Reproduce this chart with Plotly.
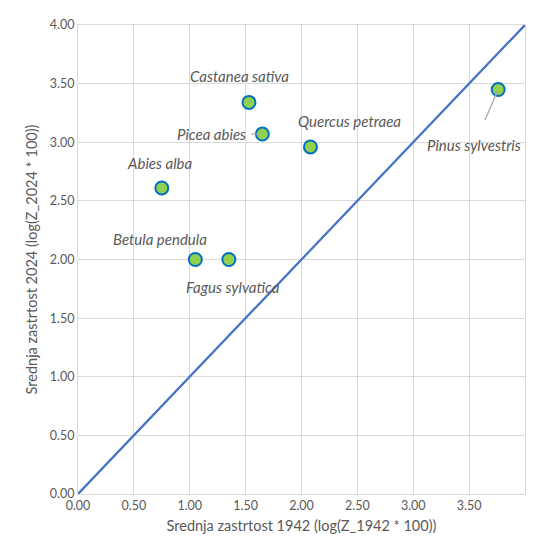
import plotly.graph_objects as go

species = ["Abies alba", "Betula pendula", "Fagus sylvatica", "Castanea sativa",
           "Picea abies", "Quercus petraea", "Pinus sylvestris"]
x_1942 = [0.75, 1.05, 1.35, 1.53, 1.65, 2.08, 3.76]
y_2024 = [2.61, 2.00, 2.00, 3.34, 3.07, 2.96, 3.45]
diag_x = [0, 4]
diag_y = [0, 4]

# label offsets in pixels (xshift, yshift, arrow?, start standoff)
label_pos = {
    "Abies alba": (-2, 25, False, 0),
    "Betula pendula": (-35, 21, False, 0),
    "Fagus sylvatica": (4, -27, False, 0),
    "Castanea sativa": (-9, 26, False, 0),
    "Picea abies": (-51, 0, True, 4),
    "Quercus petraea": (39, 26, False, 0),
    "Pinus sylvestris": (-24, 56, True, 16),
}

grey = "#595959"
grid = "#D9D9D9"
fam = "Lato, Open Sans, sans-serif"

fig = go.Figure()
fig.add_trace(go.Scatter(x=diag_x, y=diag_y, mode="lines",
                         line=dict(color="#4472C4", width=2.25),
                         hoverinfo="skip", showlegend=False))
fig.add_trace(go.Scatter(x=x_1942, y=y_2024, mode="markers", text=species,
                         marker=dict(size=13, color="#92D050",
                                     line=dict(color="#0070C0", width=2)),
                         cliponaxis=False, showlegend=False))

for name, xv, yv in zip(species, x_1942, y_2024):
    dx, dy, arrow, sso = label_pos[name]
    if arrow:
        fig.add_annotation(x=xv, y=yv, text="<i>%s</i>" % name, showarrow=True,
                           arrowhead=0, arrowwidth=1.2, arrowcolor="#A6A6A6",
                           ax=dx, ay=dy, standoff=2, startstandoff=sso,
                           font=dict(family=fam, size=15, color=grey))
    else:
        fig.add_annotation(x=xv, y=yv, text="<i>%s</i>" % name, showarrow=False,
                           xshift=dx, yshift=dy,
                           font=dict(family=fam, size=15, color=grey))

axis_common = dict(range=[0, 4], dtick=0.5, tickformat=".2f", showgrid=True,
                   gridcolor=grid, gridwidth=1, zeroline=False, showline=True,
                   linecolor=grid, mirror=True, ticks="",
                   tickfont=dict(family=fam, size=12.5, color=grey))

fig.update_xaxes(**axis_common,
                 title=dict(text="Srednja zastrtost 1942 (log(Z_1942 * 100))",
                            font=dict(family=fam, size=14.5, color=grey),
                            standoff=8))
fig.update_yaxes(**axis_common,
                 title=dict(text="Srednja zastrtost 2024 (log(Z_2024 * 100))",
                            font=dict(family=fam, size=14.5, color=grey),
                            standoff=8))

fig.update_layout(width=527, height=532,
                  margin=dict(l=70, r=9, t=12, b=46),
                  plot_bgcolor="white", paper_bgcolor="white")

fig.write_html("out.html")
